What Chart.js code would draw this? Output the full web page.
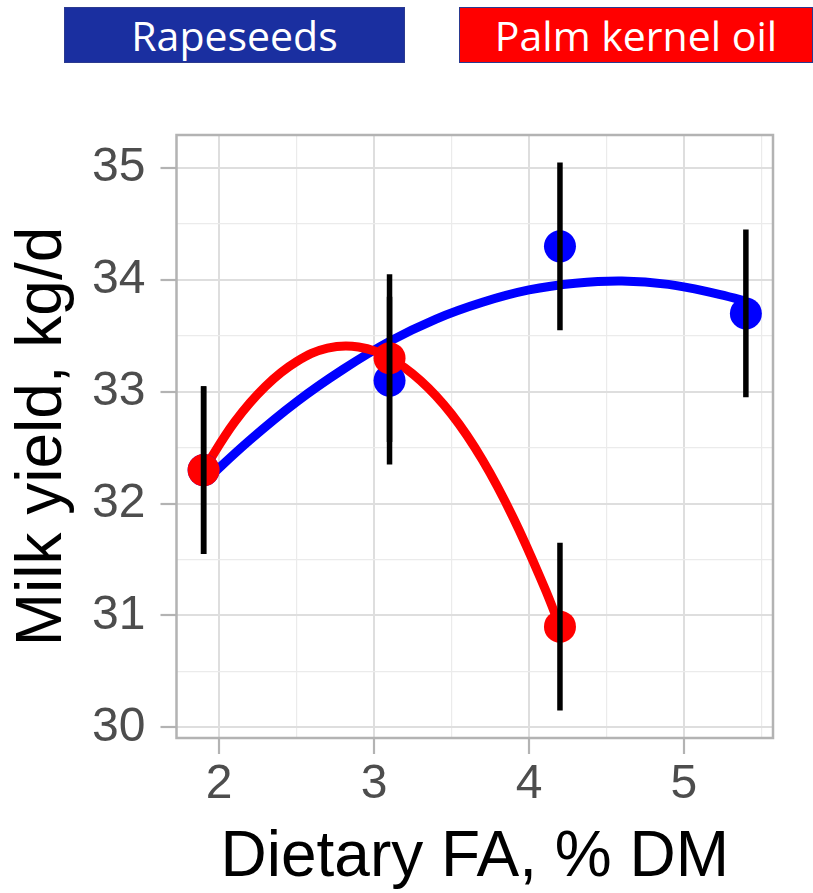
<!DOCTYPE html>
<html>
<head>
<meta charset="utf-8">
<script src="https://cdn.jsdelivr.net/npm/chart.js@4.4.1/dist/chart.umd.min.js"></script>
<style>
  html, body { margin: 0; padding: 0; background: #ffffff; }
  #wrap { position: relative; width: 813px; height: 893px; }
  #chart { position: absolute; left: 0; top: 0; }
  .key { position: absolute; top: 7px; height: 56px; box-sizing: border-box; border: 1px solid #2b3a8f;
         color: #ffffff; font-family: "Open Sans", sans-serif; font-size: 41px; line-height: 54px; text-align: center; }
</style>
</head>
<body>
<div id="wrap">
  <canvas id="chart" width="813" height="893"></canvas>
  <div class="key" id="key1" style="left:64px; width:341px; background:#1a2fa0;"></div>
  <div class="key" id="key2" style="left:459px; width:354px; background:#ff0000;"></div>
</div>
<script>
// ---- data ----
const seriesNames = ['Rapeseeds', 'Palm kernel oil'];

const rapeseedFA    = [1.9, 3.1, 4.2, 5.4];
const rapeseedYield = [32.3, 33.1, 34.3, 33.7];
const rapeseedSE    = [0.75, 0.75, 0.75, 0.75];

const palmFA    = [1.9, 3.1, 4.2];
const palmYield = [32.3, 33.3, 30.9];
const palmSE    = [0.75, 0.75, 0.75];

// fitted (quadratic) curves, as traced on the picture
const rapeseedFitFA    = [1.9, 2.2, 2.5, 2.8, 3.1, 3.4, 3.7, 4.0, 4.3, 4.6, 4.9, 5.2, 5.4];
const rapeseedFitYield = [32.19, 32.57, 32.91, 33.20, 33.45, 33.65, 33.80, 33.91, 33.97, 33.99, 33.96, 33.88, 33.81];

const palmFitFA    = [1.9, 2.1, 2.3, 2.5, 2.7, 2.9, 3.1, 3.3, 3.5, 3.7, 3.9, 4.1, 4.2];
const palmFitYield = [32.30, 32.73, 33.05, 33.27, 33.39, 33.40, 33.30, 33.10, 32.80, 32.39, 31.87, 31.25, 30.90];

const xTickValues = [2, 2.5, 3, 3.5, 4, 4.5, 5, 5.5];
const xTickLabels = ['2', '', '3', '', '4', '', '5', ''];
const yTickValues = [30, 30.5, 31, 31.5, 32, 32.5, 33, 33.5, 34, 34.5, 35];
const yTickLabels = ['30', '', '31', '', '32', '', '33', '', '34', '', '35'];

const xTitle = 'Dietary FA, % DM';
const yTitle = 'Milk yield, kg/d';

const blue = '#0000ff';
const red = '#ff0000';

document.getElementById('key1').textContent = seriesNames[0];
document.getElementById('key2').textContent = seriesNames[1];

const pts = (xs, ys) => xs.map((x, i) => ({ x: x, y: ys[i] }));
const isMajor = v => Math.abs(v - Math.round(v)) < 1e-6;

const errorBarPlugin = {
  id: 'errorBars',
  afterDatasetsDraw(chart) {
    const { ctx, scales: { x, y } } = chart;
    ctx.save();
    ctx.strokeStyle = '#000000';
    ctx.lineWidth = 5.5;
    ctx.lineCap = 'butt';
    const groups = [[rapeseedFA, rapeseedYield, rapeseedSE], [palmFA, palmYield, palmSE]];
    groups.forEach(([xs, ys, se]) => {
      xs.forEach((xv, i) => {
        const px = x.getPixelForValue(xv);
        ctx.beginPath();
        ctx.moveTo(px, y.getPixelForValue(ys[i] - se[i]));
        ctx.lineTo(px, y.getPixelForValue(ys[i] + se[i]));
        ctx.stroke();
      });
    });
    ctx.restore();
  }
};

const panelBorderPlugin = {
  id: 'panelBorder',
  afterDraw(chart) {
    const { ctx, chartArea: a } = chart;
    ctx.save();
    ctx.strokeStyle = '#b3b3b3';
    ctx.lineWidth = 2.5;
    ctx.strokeRect(a.left, a.top, a.right - a.left, a.bottom - a.top);
    ctx.restore();
  }
};

const gridOpts = {
  color: c => (c.tick && isMajor(c.tick.value)) ? '#dedede' : '#ebebeb',
  lineWidth: c => (c.tick && isMajor(c.tick.value)) ? 2 : 1.2,
  tickColor: c => (c.tick && isMajor(c.tick.value)) ? '#b3b3b3' : 'rgba(0,0,0,0)',
  tickWidth: 2.2,
  tickLength: 16,
  drawTicks: true
};

new Chart(document.getElementById('chart'), {
  type: 'scatter',
  data: {
    datasets: [
      { label: seriesNames[0] + ' fit', type: 'line', data: pts(rapeseedFitFA, rapeseedFitYield),
        borderColor: blue, borderWidth: 9, pointRadius: 0, fill: false, tension: 0.4,
        borderCapStyle: 'butt', order: 4 },
      { label: seriesNames[1] + ' fit', type: 'line', data: pts(palmFitFA, palmFitYield),
        borderColor: red, borderWidth: 9, pointRadius: 0, fill: false, tension: 0.4,
        borderCapStyle: 'butt', order: 3 },
      { label: seriesNames[0], data: pts(rapeseedFA, rapeseedYield),
        backgroundColor: blue, borderWidth: 0, pointRadius: 16, order: 2 },
      { label: seriesNames[1], data: pts(palmFA, palmYield),
        backgroundColor: red, borderWidth: 0, pointRadius: 16, order: 1 }
    ]
  },
  options: {
    responsive: false,
    animation: false,
    layout: { padding: { top: 135, right: 40, left: 0, bottom: 0 } },
    plugins: { legend: { display: false }, tooltip: { enabled: false } },
    scales: {
      x: {
        type: 'linear', min: 1.725, max: 5.575,
        afterBuildTicks: s => { s.ticks = xTickValues.map(v => ({ value: v })); },
        afterFit: s => { s.height = 155; },
        ticks: {
          callback: (v, i) => xTickLabels[i],
          color: '#4d4d4d', font: { family: 'Liberation Sans, Arial, sans-serif', size: 48, lineHeight: 1 },
          padding: 7, maxRotation: 0, autoSkip: false
        },
        grid: gridOpts,
        border: { display: false },
        title: { display: true, text: xTitle, color: '#000000',
          font: { family: 'Liberation Sans, Arial, sans-serif', size: 64, lineHeight: 1 },
          padding: { top: 0, bottom: 3 } }
      },
      y: {
        type: 'linear', min: 29.905, max: 35.295,
        afterBuildTicks: s => { s.ticks = yTickValues.map(v => ({ value: v })); },
        afterFit: s => { s.width = 176.5; },
        ticks: {
          callback: (v, i) => yTickLabels[i],
          color: '#4d4d4d', font: { family: 'Liberation Sans, Arial, sans-serif', size: 48, lineHeight: 1 },
          padding: 15, autoSkip: false
        },
        grid: gridOpts,
        border: { display: false },
        title: { display: true, text: yTitle, color: '#000000',
          font: { family: 'Liberation Sans, Arial, sans-serif', size: 64, lineHeight: 1 },
          padding: { top: 11, bottom: 0 } }
      }
    }
  },
  plugins: [errorBarPlugin, panelBorderPlugin]
});
</script>
</body>
</html>
